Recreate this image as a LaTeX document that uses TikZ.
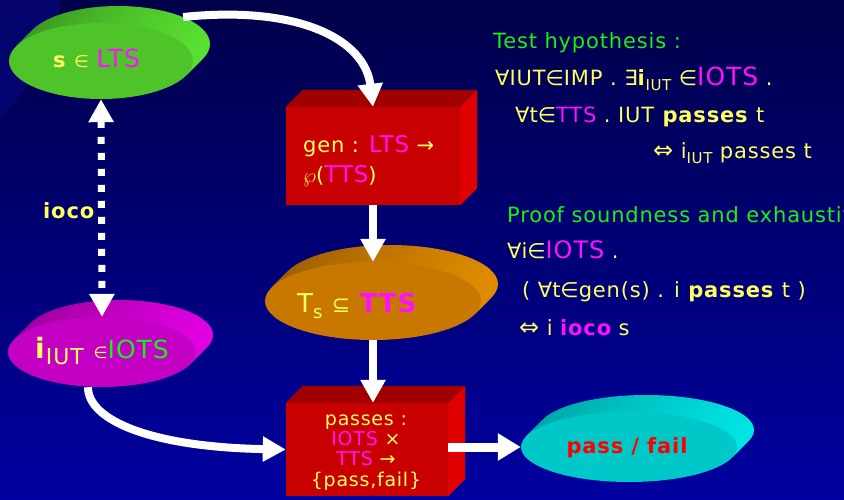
\documentclass[tikz,border=0pt]{standalone}
\usepackage{fontspec}
\setmainfont[LetterSpace=4]{DejaVu Sans}
\newfontfamily\symf{DejaVu Sans}
\usetikzlibrary{arrows.meta,shapes.geometric}

\definecolor{bgtop}{HTML}{00004A}
\definecolor{bgbot}{HTML}{0000A0}
\definecolor{bgarc}{HTML}{06067A}
\definecolor{ylw}{HTML}{FFFF60}
\definecolor{mag}{HTML}{FF10FF}
\definecolor{grn}{HTML}{18F018}
\definecolor{redtxt}{HTML}{FF0000}
% disc colours: face, dark rim, bright rim
\definecolor{gface}{HTML}{4EC42A}\definecolor{gdark}{HTML}{3A9420}\definecolor{gbright}{HTML}{58E030}
\definecolor{oface}{HTML}{C87800}\definecolor{odark}{HTML}{9C5C00}\definecolor{obright}{HTML}{E08C00}
\definecolor{mface}{HTML}{C400C4}\definecolor{mdark}{HTML}{9A009A}\definecolor{mbright}{HTML}{E200E2}
\definecolor{cface}{HTML}{00C8C8}\definecolor{cdark}{HTML}{00A4A4}\definecolor{cbright}{HTML}{00E4E4}
% box colours
\definecolor{bfront}{HTML}{C80000}
\definecolor{btop}{HTML}{A00000}
\definecolor{bside}{HTML}{E00000}

\newcommand\sy[1]{{\symf #1}}
\newcommand\fs[1]{\fontsize{#1}{#1}\selectfont}
\newcommand\lowtxt[2]{\raisebox{-0.45ex}{\fs{#1}#2}}

% a flat disc seen from above: rim built from stacked ellipses, then the face
\newcommand\disc[8]{%
  \foreach \k in {17,16,...,1}{%
    \shade[left color=#7, right color=#8] ({#2+\k},{#3-\k}) ellipse [x radius=#4, y radius=#5];}
  \node[ellipse, fill=#6, inner sep=0, minimum width=#4*2, minimum height=#5*2] (#1) at (#2,#3) {};
}
% a red block: front face node plus top and right faces
\newcommand\block[5]{%
  \node[rectangle, fill=bfront, inner sep=0, minimum width=#4, minimum height=#5] (#1) at (#2,#3) {};
  \fill[btop] (#1.north west) -- ++(17,-17) -- ([shift={(17,-17)}]#1.north east) -- (#1.north east) -- cycle;
  \fill[bside] (#1.north east) -- ++(17,-17) -- ([shift={(17,-17)}]#1.south east) -- (#1.south east) -- cycle;
}

\tikzset{
  txt/.style={text=ylw, font=\fs{21}, inner sep=0},
  fatarrow/.style={line width=8pt, white, -{Triangle[width=24pt,length=23pt]}},
}

\begin{document}
\begin{tikzpicture}[x=1pt,y=-1pt]
\useasboundingbox (0,0) rectangle (844,499);
\begin{scope}
\clip (0,0) rectangle (844,499);
\shade[top color=bgtop, bottom color=bgbot] (0,0) rectangle (844,499);
\fill[bgarc, opacity=0.7] (-160,-40) circle [radius=225];

% discs
\disc{sLTS}{101}{61}{92}{38}{gface}{gdark}{gbright}
\disc{Ts}{373}{301}{108}{39}{oface}{odark}{obright}
\disc{iIUT}{102}{352}{94}{35}{mface}{mdark}{mbright}
\disc{pf}{629}{447}{108}{35}{cface}{cdark}{cbright}

% blocks
\block{gen}{373}{156}{174}{98}
\block{pass}{367}{449.5}{162}{93}

% connectors
\draw[fatarrow] ([shift={(17,-17)}]sLTS.north east) .. controls (300,5) and (365,40) .. (gen.north);
\draw[fatarrow] (gen.south) -- (Ts.north);
\draw[fatarrow] (Ts.south) -- (Ts.south |- pass.north);
\draw[fatarrow] ([xshift=-14]iIUT.south) .. controls (88,420) and (150,447) .. (pass.west);
\draw[line width=9pt, white, -{Triangle[width=26pt,length=23pt]}] (pass.east |- pf.west) -- (pf.west);
\draw[line width=7pt, white, dash pattern=on 7pt off 9pt,
      {Triangle[width=24pt,length=23pt]}-{Triangle[width=24pt,length=23pt]}] (sLTS.south) -- (iIUT.north);

% labels inside the shapes
\node[txt, anchor=base west] (sLTSt) at (53,67) {\textbf{s} \sy{\fs{17}∈} {\color{mag}\fs{25}LTS}};
\node[txt, anchor=base west] (gen1) at (303,152) {gen : {\color{mag}\fs{23}LTS} \sy{→}};
\node[txt, anchor=base west] (gen2) at (303,182) {$\wp$({\color{mag}\fs{23}TTS})};
\node[txt, anchor=base west] (Tst) at (297,312) {\fs{26}T\lowtxt{18}{s} \sy{\fs{22}⊆} {\color{mag}\bfseries TTS}};
\node[txt, anchor=base west] (iIUTt) at (35,358) {\fs{28}\textbf{i}\lowtxt{22}{IUT} \sy{\fs{16}∈}{\color{grn}\fs{25}IOTS}};
\node[txt, anchor=base] (p1) at (366,425) {\fs{19}passes :};
\node[txt, anchor=base] (p2) at (366,445) {\fs{19}{\color{mag}IOTS} \sy{×}};
\node[txt, anchor=base] (p3) at (366,465) {\fs{19}{\color{mag}TTS} \sy{→}};
\node[txt, anchor=base] (p4) at (366,486) {\fs{19}\{pass,fail\}};
\node[txt, anchor=base, text=redtxt] (pft) at (627,453) {\fs{21}\bfseries pass / fail};
\node[txt, anchor=base west] (ioco) at (43,218) {\bfseries ioco};

% side text
\node[txt, anchor=base west, text=grn] (th1) at (493,48) {Test hypothesis :};
\node[txt, anchor=base west] (th2) at (495,85) {\sy{∀}IUT\sy{∈}IMP . \sy{∃}\textbf{i}\lowtxt{15}{IUT} \sy{∈}{\color{mag}\fs{25}IOTS} .};
\node[txt, anchor=base west] (th3) at (515,122) {\sy{∀}t\sy{∈}{\color{mag}TTS} . IUT \textbf{passes} t};
\node[txt, anchor=base west] (th4) at (653,158) {\sy{\fs{24}⇔} i\lowtxt{15}{IUT} passes t};
\node[txt, anchor=base west, text=grn] (ps1) at (507,222) {Proof soundness and exhaustiveness};
\node[txt, anchor=base west] (ps2) at (507,258) {\sy{∀}i\sy{∈}{\color{mag}\fs{24}IOTS} .};
\node[txt, anchor=base west] (ps3) at (522,297) {( \sy{∀}t\sy{∈}gen(s) . i \textbf{passes} t )};
\node[txt, anchor=base west] (ps4) at (519,335) {\sy{\fs{24}⇔} i {\color{mag}\bfseries ioco} s};
\end{scope}
\end{tikzpicture}
\end{document}
